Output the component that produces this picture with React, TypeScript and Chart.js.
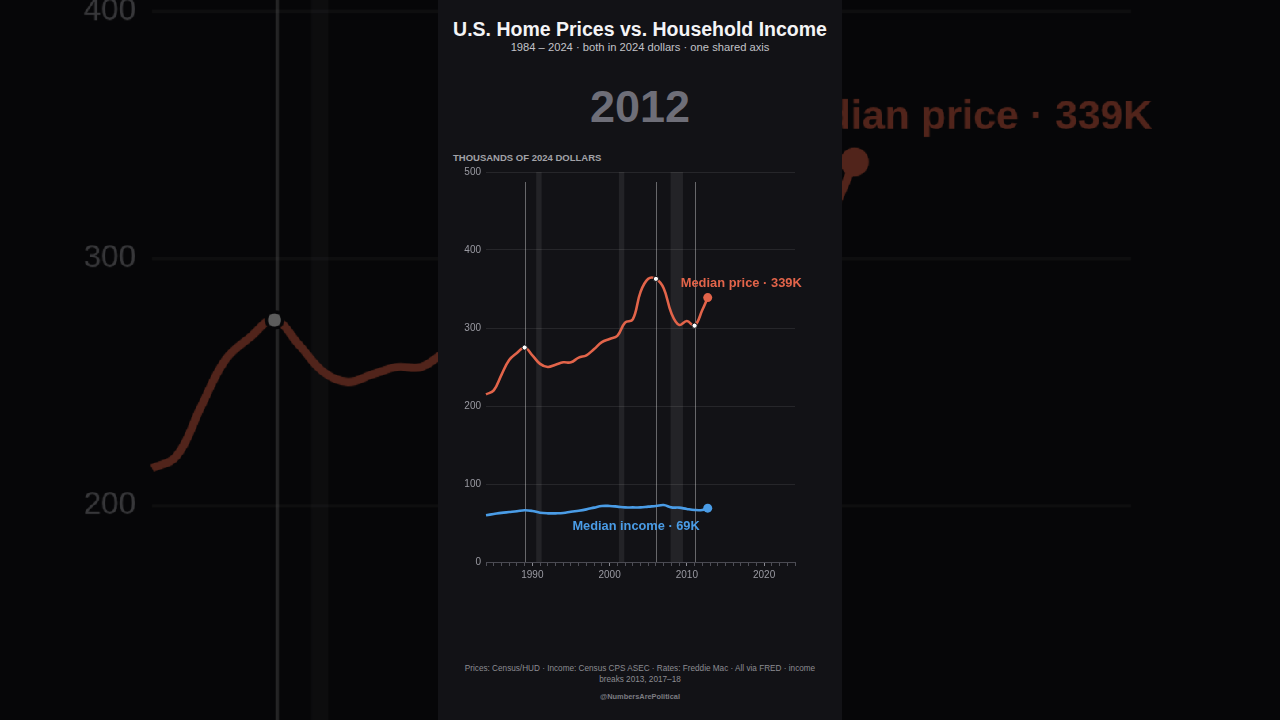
import React, { useEffect, useRef } from "react";
import { Chart, registerables } from "chart.js";

Chart.register(...registerables);

// ---- data (thousands of 2024 dollars) ----
const years = [
  1984, 1985, 1986, 1987, 1988, 1989, 1990, 1991, 1992, 1993, 1994, 1995, 1996, 1997, 1998,
  1999, 2000, 2001, 2002, 2003, 2004, 2005, 2006, 2007, 2008, 2009, 2010, 2011, 2012, 2012.7,
];
const medianPrice = [
  215, 220, 240, 259, 268, 275, 265, 254, 250, 253, 256, 256, 262, 265, 273,
  282, 286, 290, 307, 311, 346, 363, 363, 351, 319, 304, 309, 303, 323, 339,
];
const medianIncome = [
  60, 61.5, 63, 64, 65, 66.3, 65.4, 63.2, 62.4, 62.4, 62.8, 64.5, 65.8, 67.5, 69.7,
  71.8, 71.8, 71, 70, 70, 70, 71, 71.8, 73, 70, 69.7, 68, 66.7, 66.7, 69,
];
// highlighted turning points on the price line
const eventYears = [1989, 2006, 2011];
// NBER recessions [start, end]
const recessions: [number, number][] = [
  [1990.5, 1991.2],
  [2001.2, 2001.9],
  [2007.9, 2009.5],
];
const yTicks = [0, 100, 200, 300, 400, 500];
const currentYear = "2012";

const PRICE_COLOR = "#e2644a";
const INCOME_COLOR = "#4a9ce6";
const PANEL_BG = "#121216";
const FONT = '"Liberation Sans", Arial, Helvetica, sans-serif';

Chart.defaults.font.family = FONT;

const shadingPlugin = {
  id: "shading",
  beforeDatasetsDraw(chart: any) {
    const { ctx, chartArea, scales } = chart;
    const x = scales.x;
    ctx.save();
    ctx.fillStyle = "rgba(255,255,255,0.075)";
    for (const [a, b] of recessions) {
      const x1 = x.getPixelForValue(a);
      const x2 = x.getPixelForValue(b);
      ctx.fillRect(x1, chartArea.top, x2 - x1, chartArea.bottom - chartArea.top);
    }
    ctx.strokeStyle = "rgba(255,255,255,0.36)";
    ctx.lineWidth = 1;
    for (const yr of eventYears) {
      const px = Math.round(x.getPixelForValue(yr)) + 0.5;
      ctx.beginPath();
      ctx.moveTo(px, chartArea.top + 10);
      ctx.lineTo(px, chartArea.bottom);
      ctx.stroke();
    }
    ctx.restore();
  },
};

const endLabelPlugin = {
  id: "endLabels",
  afterDatasetsDraw(chart: any) {
    const { ctx } = chart;
    const pMeta = chart.getDatasetMeta(0);
    const iMeta = chart.getDatasetMeta(1);
    const pLast = pMeta.data[pMeta.data.length - 1];
    const iLast = iMeta.data[iMeta.data.length - 1];
    ctx.save();
    ctx.textBaseline = "middle";
    ctx.font = `bold 12.9px ${FONT}`;
    ctx.fillStyle = PRICE_COLOR;
    ctx.textAlign = "left";
    ctx.fillText(
      `Median price · ${medianPrice[medianPrice.length - 1]}K`,
      pLast.x - 27,
      pLast.y - 14
    );
    ctx.font = `bold 12.8px ${FONT}`;
    ctx.fillStyle = INCOME_COLOR;
    ctx.textAlign = "right";
    ctx.fillText(
      `Median income · ${medianIncome[medianIncome.length - 1]}K`,
      iLast.x - 8,
      iLast.y + 18
    );
    ctx.restore();
  },
};

function Panel({ dpr }: { dpr: number }) {
  const canvasRef = useRef<HTMLCanvasElement>(null);

  useEffect(() => {
    const lastIdx = years.length - 1;
    const priceRadius = years.map((y, i) =>
      i === lastIdx ? 4.5 : eventYears.includes(y) ? 2.6 : 0
    );
    const priceFill = years.map((y, i) => (i === lastIdx ? PRICE_COLOR : "#ffffff"));
    const priceBorder = years.map((y, i) => (i === lastIdx ? PRICE_COLOR : PANEL_BG));
    const priceBorderW = years.map((y, i) => (i === lastIdx ? 0 : 1));
    const incomeRadius = years.map((y, i) => (i === lastIdx ? 4.5 : 0));

    const chart = new Chart(canvasRef.current!, {
      type: "line",
      data: {
        datasets: [
          {
            label: "Median price",
            data: years.map((y, i) => ({ x: y, y: medianPrice[i] })),
            borderColor: PRICE_COLOR,
            borderWidth: 2.6,
            tension: 0.4,
            pointRadius: priceRadius,
            pointBackgroundColor: priceFill,
            pointBorderColor: priceBorder,
            pointBorderWidth: priceBorderW,
            clip: false,
          },
          {
            label: "Median income",
            data: years.map((y, i) => ({ x: y, y: medianIncome[i] })),
            borderColor: INCOME_COLOR,
            borderWidth: 2.6,
            tension: 0.4,
            pointRadius: incomeRadius,
            pointBackgroundColor: INCOME_COLOR,
            pointBorderWidth: 0,
            clip: false,
          },
        ],
      },
      options: {
        animation: false,
        responsive: false,
        devicePixelRatio: dpr,
        layout: { padding: { top: 12, right: 47, left: 0, bottom: 0 } },
        plugins: {
          legend: { display: false },
          tooltip: { enabled: false },
        },
        events: [],
        scales: {
          x: {
            type: "linear",
            min: 1984,
            max: 2024,
            afterFit(scale: any) {
              scale.height = 38;
            },
            border: { display: true, color: "#4a4a52", width: 1 },
            grid: {
              drawOnChartArea: false,
              drawTicks: true,
              tickLength: 4,
              color: (ctx: any) =>
                ctx.tick && ctx.tick.value % 10 === 0 ? "#8a8a92" : "#4e4e56",
            },
            ticks: {
              stepSize: 1,
              autoSkip: false,
              maxTicksLimit: 100,
              maxRotation: 0,
              padding: 3,
              color: "#9a9aa2",
              font: { size: 10 },
              callback: (v: any) => (Number(v) % 10 === 0 ? String(v) : ""),
            },
          },
          y: {
            min: 0,
            max: 500,
            afterFit(scale: any) {
              scale.width = 48;
            },
            afterBuildTicks(scale: any) {
              scale.ticks = yTicks.map((v) => ({ value: v }));
            },
            border: { display: false },
            grid: {
              color: "rgba(255,255,255,0.085)",
              drawTicks: false,
            },
            ticks: {
              padding: 5,
              color: "#9a9aa2",
              font: { size: 10 },
            },
          },
        },
      },
      plugins: [shadingPlugin, endLabelPlugin],
    });
    return () => chart.destroy();
  }, [dpr]);

  const center: React.CSSProperties = {
    position: "absolute",
    left: 0,
    width: 404,
    textAlign: "center",
    whiteSpace: "nowrap",
  };

  return (
    <div
      style={{
        position: "relative",
        width: 404,
        height: 720,
        background: PANEL_BG,
        fontFamily: FONT,
        overflow: "hidden",
      }}
    >
      <div
        style={{
          ...center,
          top: 19,
          fontSize: 19.5,
          lineHeight: "20px",
          fontWeight: 700,
          color: "#f4f4f6",
        }}
      >
        U.S. Home Prices vs. Household Income
      </div>
      <div
        style={{ ...center, top: 41, fontSize: 11.2, lineHeight: "12px", color: "#c2c2c8" }}
      >
        1984 – 2024 · both in 2024 dollars · one shared axis
      </div>
      <div
        style={{
          ...center,
          top: 83.5,
          fontSize: 45,
          lineHeight: "45px",
          fontWeight: 700,
          color: "#6e6e78",
        }}
      >
        {currentYear}
      </div>
      <div
        style={{
          position: "absolute",
          left: 15,
          top: 153,
          fontSize: 9.5,
          lineHeight: "10px",
          fontWeight: 700,
          color: "#a2a2a8",
          whiteSpace: "nowrap",
        }}
      >
        THOUSANDS OF 2024 DOLLARS
      </div>
      <canvas
        ref={canvasRef}
        width={404}
        height={440}
        style={{ position: "absolute", left: 0, top: 160 }}
      />
      <div
        style={{ ...center, top: 663, fontSize: 8.2, lineHeight: "11px", color: "#8c8c92" }}
      >
        Prices: Census/HUD · Income: Census CPS ASEC · Rates: Freddie Mac · All via FRED · income
        <br />
        breaks 2013, 2017–18
      </div>
      <div
        style={{
          ...center,
          top: 693,
          fontSize: 7.4,
          lineHeight: "8px",
          fontWeight: 700,
          color: "#7c7c82",
        }}
      >
        @NumbersArePolitical
      </div>
    </div>
  );
}

const SCALE = 1280 / 404;

export default function App() {
  return (
    <div
      style={{
        position: "fixed",
        left: 0,
        top: 0,
        width: 1280,
        height: 720,
        overflow: "hidden",
        background: "#050507",
      }}
    >
      <div
        style={{
          position: "absolute",
          left: 0,
          top: 0,
          width: 1280,
          height: 720,
          filter: "brightness(0.36)",
          overflow: "hidden",
        }}
      >
        <div
          style={{
            position: "absolute",
            left: 0,
            top: 360 - (720 * SCALE) / 2,
            transform: `scale(${SCALE})`,
            transformOrigin: "0 0",
          }}
        >
          <Panel dpr={SCALE} />
        </div>
      </div>
      <div style={{ position: "absolute", left: 438, top: 0 }}>
        <Panel dpr={1} />
      </div>
    </div>
  );
}
